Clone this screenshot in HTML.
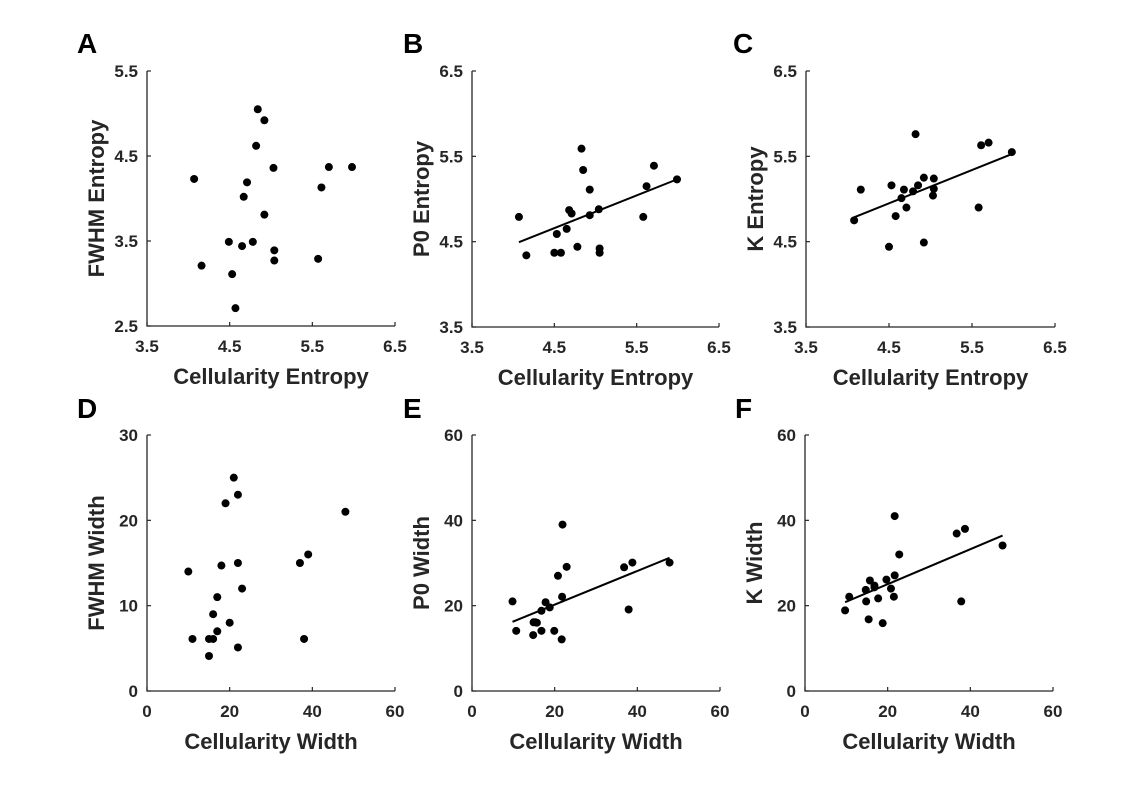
<!DOCTYPE html>
<html><head><meta charset="utf-8"><style>
html,body{margin:0;padding:0;background:#fff}
svg{display:block}
text{font-family:"Liberation Sans",Arial,sans-serif;font-weight:bold}
</style></head><body>
<svg id="fig" width="1143" height="789" viewBox="0 0 1143 789"></svg>
<script>
const aX=[4.84,4.92,4.82,5.03,5.70,5.98,4.07,4.71,5.61,4.67,4.92,4.49,4.65,4.78,5.04,5.04,5.57,4.16,4.53,4.57];
const aY=[5.05,4.92,4.62,4.36,4.37,4.37,4.23,4.19,4.13,4.02,3.81,3.49,3.44,3.49,3.39,3.27,3.29,3.21,3.11,2.71];
const bX=[4.07,4.16,4.50,4.58,4.53,4.65,4.68,4.71,4.78,4.83,4.85,4.93,4.93,5.04,5.05,5.05,5.58,5.62,5.71,5.99];
const bY=[4.79,4.34,4.37,4.37,4.59,4.65,4.87,4.83,4.44,5.59,5.34,5.11,4.81,4.88,4.42,4.37,4.79,5.15,5.39,5.23];
const cX=[4.08,4.16,4.50,4.53,4.58,4.65,4.68,4.71,4.79,4.82,4.85,4.92,4.92,5.04,5.04,5.03,5.58,5.61,5.70,5.98];
const cY=[4.75,5.11,4.44,5.16,4.80,5.01,5.11,4.90,5.09,5.76,5.16,5.25,4.49,5.24,5.12,5.04,4.90,5.63,5.66,5.55];
const dX=[21,22,19,48,39,37,22,18,10,23,17,16,20,17,11,15,16,38,22,15];
const dY=[25,23,22,21,16,15,15,14.7,14,12,11,9,8,7,6.1,6.1,6.1,6.1,5.1,4.1];
const eX=[9.8,10.7,14.8,14.9,15.7,16.8,16.8,17.8,18.8,19.9,20.8,21.7,21.8,21.9,22.9,36.8,38.8,37.9,47.8,15.3];
const eY=[21.0,14.1,13.1,16.1,16.0,18.8,14.1,20.8,19.6,14.1,27.0,12.1,22.1,39.0,29.1,29.0,30.1,19.1,30.1,16.1];
const fX=[9.7,10.7,14.7,14.8,15.4,15.7,16.8,16.8,17.7,18.8,19.7,20.8,21.5,21.7,21.7,22.8,36.7,38.7,37.8,47.8];
const fY=[18.9,22.1,23.7,21.0,16.8,25.9,24.7,24.3,21.7,15.9,26.1,24.0,22.1,27.1,41.0,32.0,36.9,38.0,21.0,34.1];
const entTicks=["3.5","4.5","5.5","6.5"];
const aTicks=["2.5","3.5","4.5","5.5"];
const wTicks=["0","20","40","60"];
const dTicks=["0","10","20","30"];
const wyTicks=["0","20","40","60"];

const NS="http://www.w3.org/2000/svg";
const svg=document.getElementById('fig');
function mk(tag,attrs,parent){const e=document.createElementNS(NS,tag);for(const k in attrs)e.setAttribute(k,attrs[k]);(parent||svg).appendChild(e);return e;}
const C="#262626";
function panel(p){
  const g=mk('g',{});
  
  
  const xmin=+p.xt[0],xmax=+p.xt[p.xt.length-1],ymin=+p.yt[0],ymax=+p.yt[p.yt.length-1];
  const sx=v=>p.l+(v-xmin)/(xmax-xmin)*(p.r-p.l);
  const sy=v=>p.b-(v-ymin)/(ymax-ymin)*(p.b-p.t);
  const lt=mk('text',{x:p.lx,y:p.ly,'font-size':28,fill:'#000'},g);lt.textContent=p.id;
  
  
  const ax=mk('path',{d:`M${p.l},${p.t}V${p.b}H${p.r}`,stroke:C,fill:'none','stroke-width':1.3},g);
  
  
  p.xt.forEach(t=>{const x=sx(+t);
    mk('line',{x1:x,x2:x,y1:p.b,y2:p.b-4,stroke:C,'stroke-width':1.2},g);
    const tx=mk('text',{x:x,y:p.b+26,'text-anchor':'middle','font-size':17,fill:C},g);tx.textContent=t;
    
    });
  p.yt.forEach(t=>{const y=sy(+t);
    mk('line',{x1:p.l,x2:p.l+4,y1:y,y2:y,stroke:C,'stroke-width':1.2},g);
    const tx=mk('text',{x:p.l-9,y:y+6,'text-anchor':'end','font-size':17,fill:C},g);tx.textContent=t;
    
    });
  const xt=mk('text',{x:(p.l+p.r)/2,y:p.b+58,'text-anchor':'middle','font-size':22,fill:C},g);xt.textContent=p.xl;
  
  
  const yc=(p.t+p.b)/2,yx=p.l-43;
  const yt=mk('text',{x:yx,y:yc,'text-anchor':'middle','font-size':22,fill:C,transform:`rotate(-90 ${yx} ${yc})`},g);yt.textContent=p.yl;
  
  
  if(p.fit){
    const n=p.x.length;let mx=0,my=0;for(let i=0;i<n;i++){mx+=p.x[i];my+=p.y[i];}mx/=n;my/=n;
    let sxy=0,sxx=0;for(let i=0;i<n;i++){sxy+=(p.x[i]-mx)*(p.y[i]-my);sxx+=(p.x[i]-mx)**2;}
    const m=sxy/sxx,c=my-m*mx;const x0=Math.min(...p.x),x1=Math.max(...p.x);
    const ln=mk('line',{x1:sx(x0),y1:sy(m*x0+c),x2:sx(x1),y2:sy(m*x1+c),stroke:'#000','stroke-width':2},g);
    
    
  }
  p.x.forEach((v,i)=>{const d=mk('circle',{cx:sx(v),cy:sy(p.y[i]),r:4,fill:'#000'},g);
    
    });
}
panel({id:'A',l:147,r:395,t:71,b:326,lx:77,ly:53,x:aX,y:aY,xt:entTicks,yt:aTicks,xl:'Cellularity Entropy',yl:'FWHM Entropy',fit:false});
panel({id:'B',l:472,r:719,t:71,b:327,lx:403,ly:53,x:bX,y:bY,xt:entTicks,yt:["3.5","4.5","5.5","6.5"],xl:'Cellularity Entropy',yl:'P0 Entropy',fit:true});
panel({id:'C',l:806,r:1055,t:71,b:327,lx:733,ly:53,x:cX,y:cY,xt:entTicks,yt:["3.5","4.5","5.5","6.5"],xl:'Cellularity Entropy',yl:'K Entropy',fit:true});
panel({id:'D',l:147,r:395,t:435,b:691,lx:77,ly:418,x:dX,y:dY,xt:wTicks,yt:dTicks,xl:'Cellularity Width',yl:'FWHM Width',fit:false});
panel({id:'E',l:472,r:720,t:435,b:691,lx:403,ly:418,x:eX,y:eY,xt:wTicks,yt:wyTicks,xl:'Cellularity Width',yl:'P0 Width',fit:true});
panel({id:'F',l:805,r:1053,t:435,b:691,lx:735,ly:418,x:fX,y:fY,xt:wTicks,yt:wyTicks,xl:'Cellularity Width',yl:'K Width',fit:true});
</script>
</body></html>
